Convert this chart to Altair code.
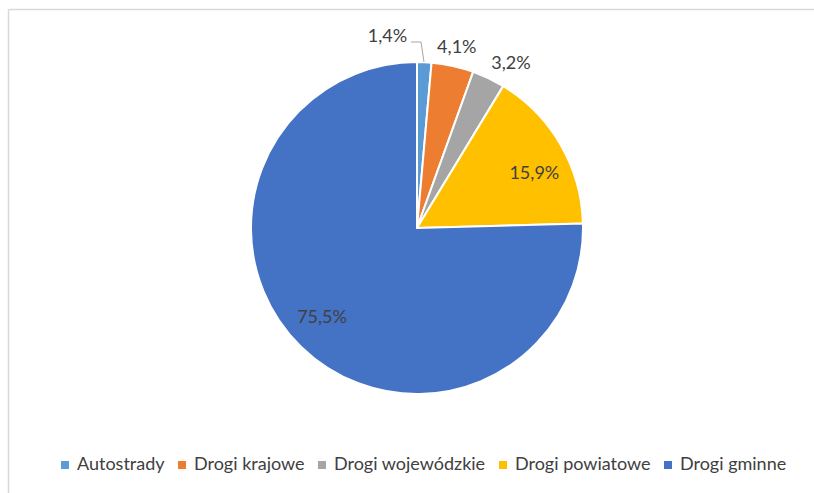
import altair as alt
import pandas as pd

categories = ["Autostrady", "Drogi krajowe", "Drogi wojewódzkie", "Drogi powiatowe", "Drogi gminne"]
shares = [1.4, 4.1, 3.2, 15.9, 75.5]
colors = ["#5B9BD5", "#ED7D31", "#A5A5A5", "#FFC000", "#4472C4"]

df = pd.DataFrame({
    "cat": categories,
    "share": shares,
    "idx": list(range(len(categories))),
    "label": [f"{v:.1f}".replace(".", ",") + "%" for v in shares],
})

CX, CY, R = 417, 228, 166
FONT = "Lato"
TXT = "#404040"

color = alt.Color(
    "cat:N",
    scale=alt.Scale(domain=categories, range=colors),
    sort=categories,
    legend=alt.Legend(
        title=None, orient="none", legendX=56, legendY=456, direction="horizontal",
        symbolType="square", symbolSize=64, symbolStrokeWidth=0,
        labelFont=FONT, labelFontSize=18, labelColor=TXT, labelOffset=3,
        columnPadding=8, columns=5, labelLimit=300,
    ),
)

pie = alt.Chart(df).mark_arc(x=CX, y=CY, outerRadius=R, stroke="white", strokeWidth=2).encode(
    theta=alt.Theta("share:Q", stack=True),
    order=alt.Order("idx:Q"),
    color=color,
)

lab = alt.Chart(df).transform_window(
    cum="sum(share)", sort=[alt.SortField("idx")], frame=[None, 0]
).transform_calculate(mid="datum.cum - datum.share / 2")

theta_mid = alt.Theta("mid:Q", stack=None)


def label_layer(cat, radius, dx, dy):
    return lab.transform_filter(alt.datum.cat == cat).mark_text(
        x=CX, y=CY, radius=radius, dx=dx, dy=dy, font=FONT, fontSize=18, color=TXT
    ).encode(theta=theta_mid, text="label:N")


labels = [
    label_layer("Autostrady", 192, -38, 1),
    label_layer("Drogi krajowe", 190, -1, 6),
    label_layer("Drogi wojewódzkie", 190, 12, 7),
    label_layer("Drogi powiatowe", 116, 17, 4),
    label_layer("Drogi gminne", 116, -14, 7),
]

lead_h = alt.Chart(df.head(1)).mark_rule(color="#A6A6A6", strokeWidth=1).encode(
    x=alt.value(411), x2=alt.value(421), y=alt.value(42), y2=alt.value(42)
)
lead_v = alt.Chart(df.head(1)).mark_rule(color="#A6A6A6", strokeWidth=1).encode(
    x=alt.value(421), x2=alt.value(424), y=alt.value(42), y2=alt.value(62)
)

frame_l = alt.Chart(df.head(1)).mark_rule(color="#D9D9D9", strokeWidth=1.5).encode(
    x=alt.value(8.5), x2=alt.value(8.5), y=alt.value(9.5), y2=alt.value(493)
)
frame_t = alt.Chart(df.head(1)).mark_rule(color="#D9D9D9", strokeWidth=1.5).encode(
    x=alt.value(8.5), x2=alt.value(814), y=alt.value(9.5), y2=alt.value(9.5)
)

chart = alt.layer(frame_l, frame_t, pie, *labels, lead_h, lead_v).properties(
    width=814, height=493, autosize=alt.AutoSizeParams(type="none"), padding=0,
    background="white",
).configure_view(stroke=None)

chart.save("out.html", embed_options={"renderer": "svg", "actions": False})
